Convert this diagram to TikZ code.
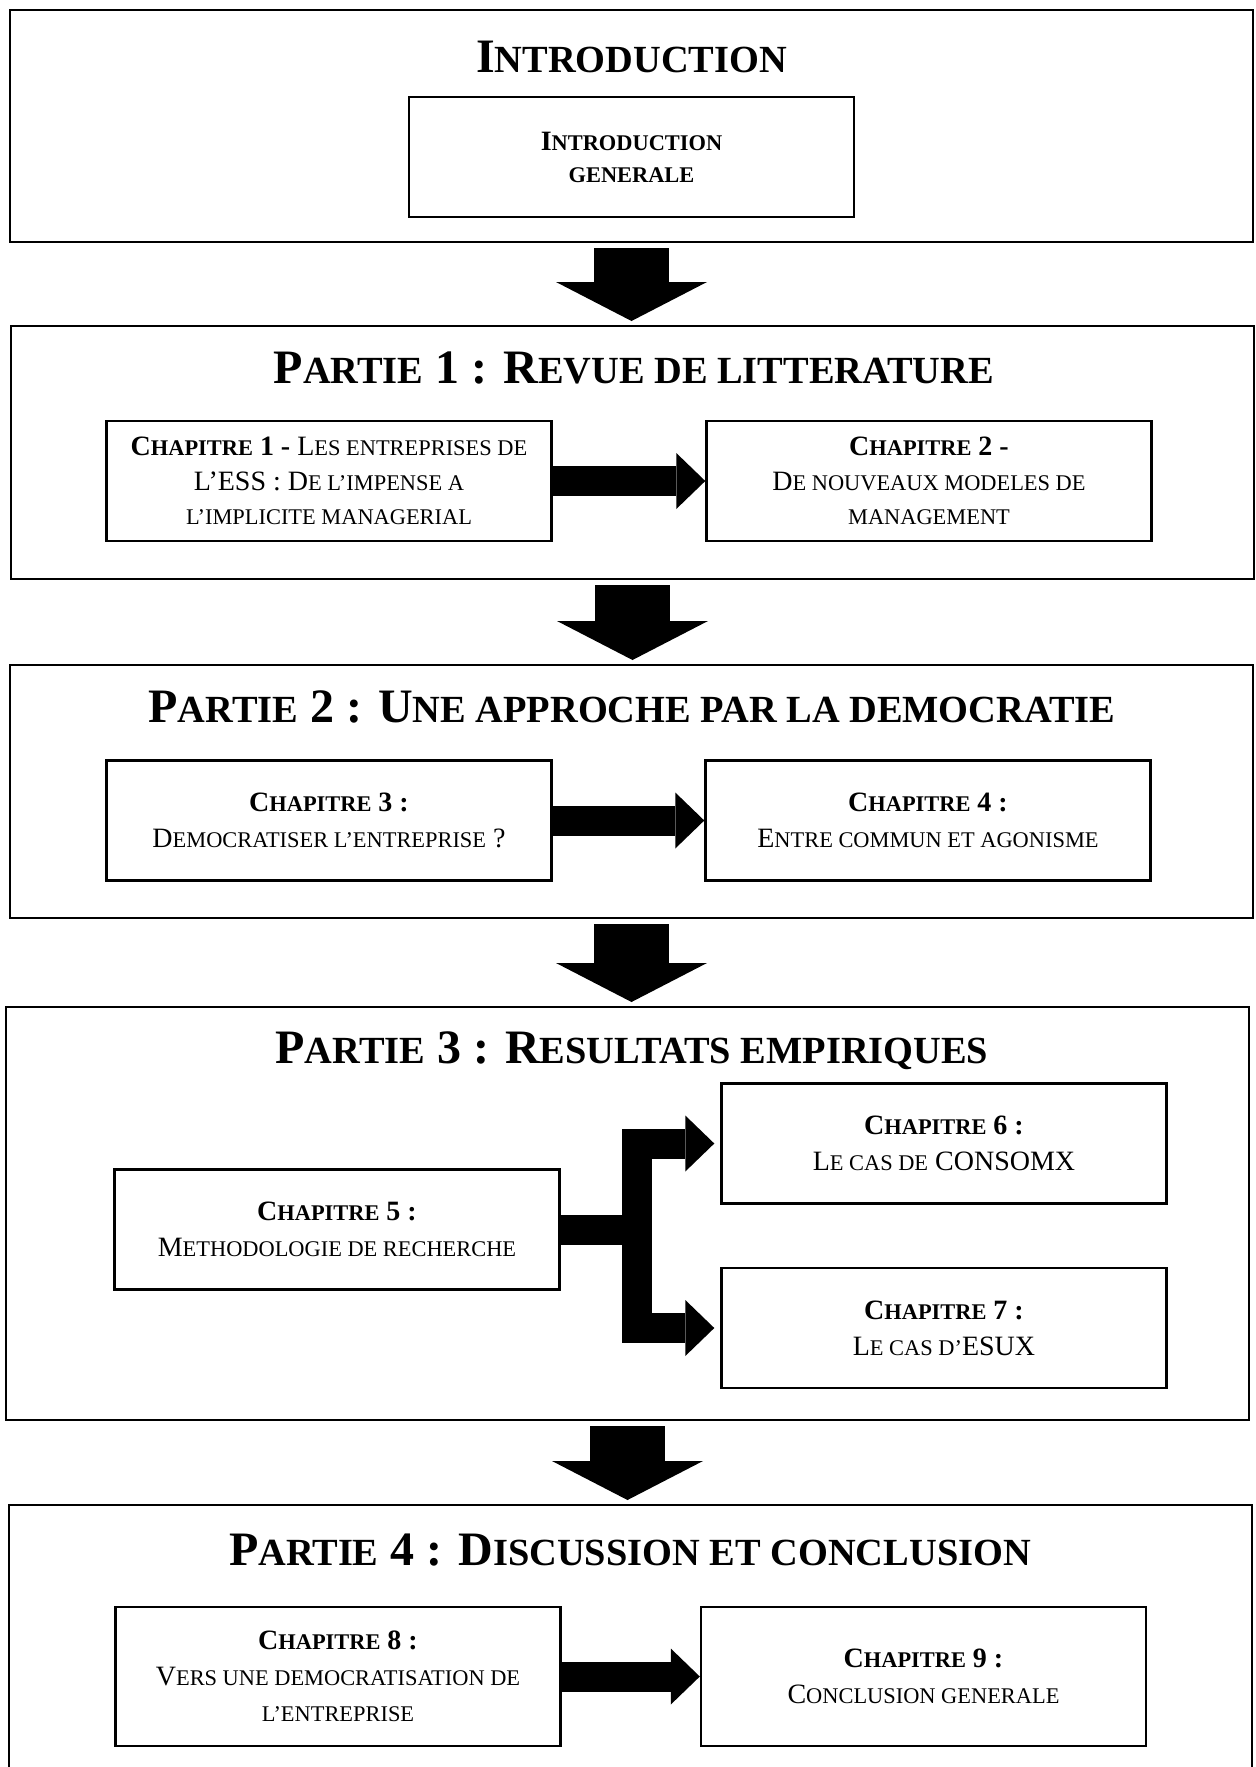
\documentclass[tikz,border=0pt]{standalone}
\usepackage{fontspec}
\setmainfont{Liberation Serif}
\usetikzlibrary{arrows.meta}

% word-like small capitals
\makeatletter
\newcommand\wsc[1]{{\fontsize{\strip@pt\dimexpr0.8\dimexpr\f@size pt\relax\relax}{\f@baselineskip}\selectfont\MakeUppercase{#1}}}
\makeatother

\begin{document}
\begin{tikzpicture}[x=0.5pt, y=-0.5pt,
  partbox/.style={draw, line width=1pt, minimum width=621.5pt},
  chapbox/.style={draw, line width=1.2pt, minimum width=222.5pt, minimum height=60pt,
    align=center, font={\fontsize{14}{18}\selectfont}},
  parttitle/.style={anchor=base, font={\fontsize{24}{28}\selectfont\bfseries}},
  bigarrow/.style={line width=37.5pt, shorten <=2.5pt, shorten >=2pt,
    -{Triangle[length=19.5pt 0 0, width=75.5pt 0 0, line width=0pt 0 0]}},
  medarrow/.style={line width=15pt,
    -{Triangle[length=14.5pt 0 0, width=28pt 0 0, line width=0pt 0 0]}}]
  \useasboundingbox (0,0) rectangle (1255,1767);

  % Introduction
  \node[partbox, minimum height=116pt] (intro) at (631.5,126) {};
  \node[parttitle] (introtitle) at (631.5,72) {I\wsc{ntroduction}};
  \node[chapbox, font={\fontsize{14}{16}\selectfont\bfseries}] (introg) at (631.5,157)
    {I\wsc{ntroduction}\\ \wsc{generale}};

  % Partie 1
  \node[partbox, minimum height=126.5pt] (p1) at (632.5,452.5) {};
  \node[parttitle] (p1title) at (634,383) {P\wsc{artie} 1 : R\wsc{evue de litterature}};
  \node[chapbox, font={\fontsize{14}{17.2}\selectfont}] (ch1) at (329,481)
    {\textbf{C\wsc{hapitre} 1 -} L\wsc{es entreprises de}\\ L’ESS : D\wsc{e l’impense a}\\ \wsc{l’implicite managerial}};
  \node[chapbox, font={\fontsize{14}{17.2}\selectfont}] (ch2) at (929,481)
    {\textbf{C\wsc{hapitre} 2 -}\\ D\wsc{e nouveaux modeles de}\\ \wsc{management}};

  % Partie 2
  \node[partbox, minimum height=126.5pt] (p2) at (631.5,791.5) {};
  \node[parttitle] (p2title) at (632,722) {P\wsc{artie} 2 : U\wsc{ne approche par la democratie}};
  \node[chapbox] (ch3) at (329,820.5) {\textbf{C\wsc{hapitre} 3 :}\\ D\wsc{emocratiser l’entreprise} ?};
  \node[chapbox] (ch4) at (928,820.5) {\textbf{C\wsc{hapitre} 4 :}\\ E\wsc{ntre commun et agonisme}};

  % Partie 3
  \node[partbox, minimum height=206.5pt] (p3) at (627.5,1213.5) {};
  \node[parttitle] (p3title) at (632,1063) {P\wsc{artie} 3 : R\wsc{esultats empiriques}};
  \node[chapbox] (ch5) at (337,1229.5) {\textbf{C\wsc{hapitre} 5 :}\\ M\wsc{ethodologie de recherche}};
  \node[chapbox] (ch6) at (944,1143.5) {\textbf{C\wsc{hapitre} 6 :}\\ L\wsc{e cas de} CONSOMX};
  \node[chapbox] (ch7) at (944,1328) {\textbf{C\wsc{hapitre} 7 :}\\ L\wsc{e cas d’}ESUX};

  % Partie 4 (cut at the bottom)
  \node[partbox, minimum height=147.5pt] (p4) at (630.5,1652.5) {};
  \node[parttitle] (p4title) at (630,1565) {P\wsc{artie} 4 : D\wsc{iscussion et conclusion}};
  \node[chapbox, minimum height=69.5pt] (ch8) at (338,1676.5)
    {\textbf{C\wsc{hapitre} 8 :}\\ V\wsc{ers une democratisation de}\\ \wsc{l’entreprise}};
  \node[chapbox, minimum height=69.5pt] (ch9) at (923.5,1676.5)
    {\textbf{C\wsc{hapitre} 9 :}\\ C\wsc{onclusion generale}};

  % Arrows between the parts
  \draw[bigarrow] (intro.south) -- (intro.south |- p1.north);
  \draw[bigarrow] (p1.south) -- (p1.south |- p2.north);
  \draw[bigarrow] (p2.south) -- (p2.south |- p3.north);
  \draw[bigarrow] (p3.south) -- (p3.south |- p4.north);

  % Arrows between the chapters
  \draw[medarrow] (ch1) -- (ch2);
  \draw[medarrow] (ch3) -- (ch4);
  \draw[medarrow, shorten >=3pt] (ch5.east) -- ++(76,0) |- (ch6.west);
  \draw[medarrow, shorten >=3pt] (ch5.east) -- ++(76,0) |- (ch7.west);
  \draw[medarrow] (ch8) -- (ch9);
\end{tikzpicture}
\end{document}
